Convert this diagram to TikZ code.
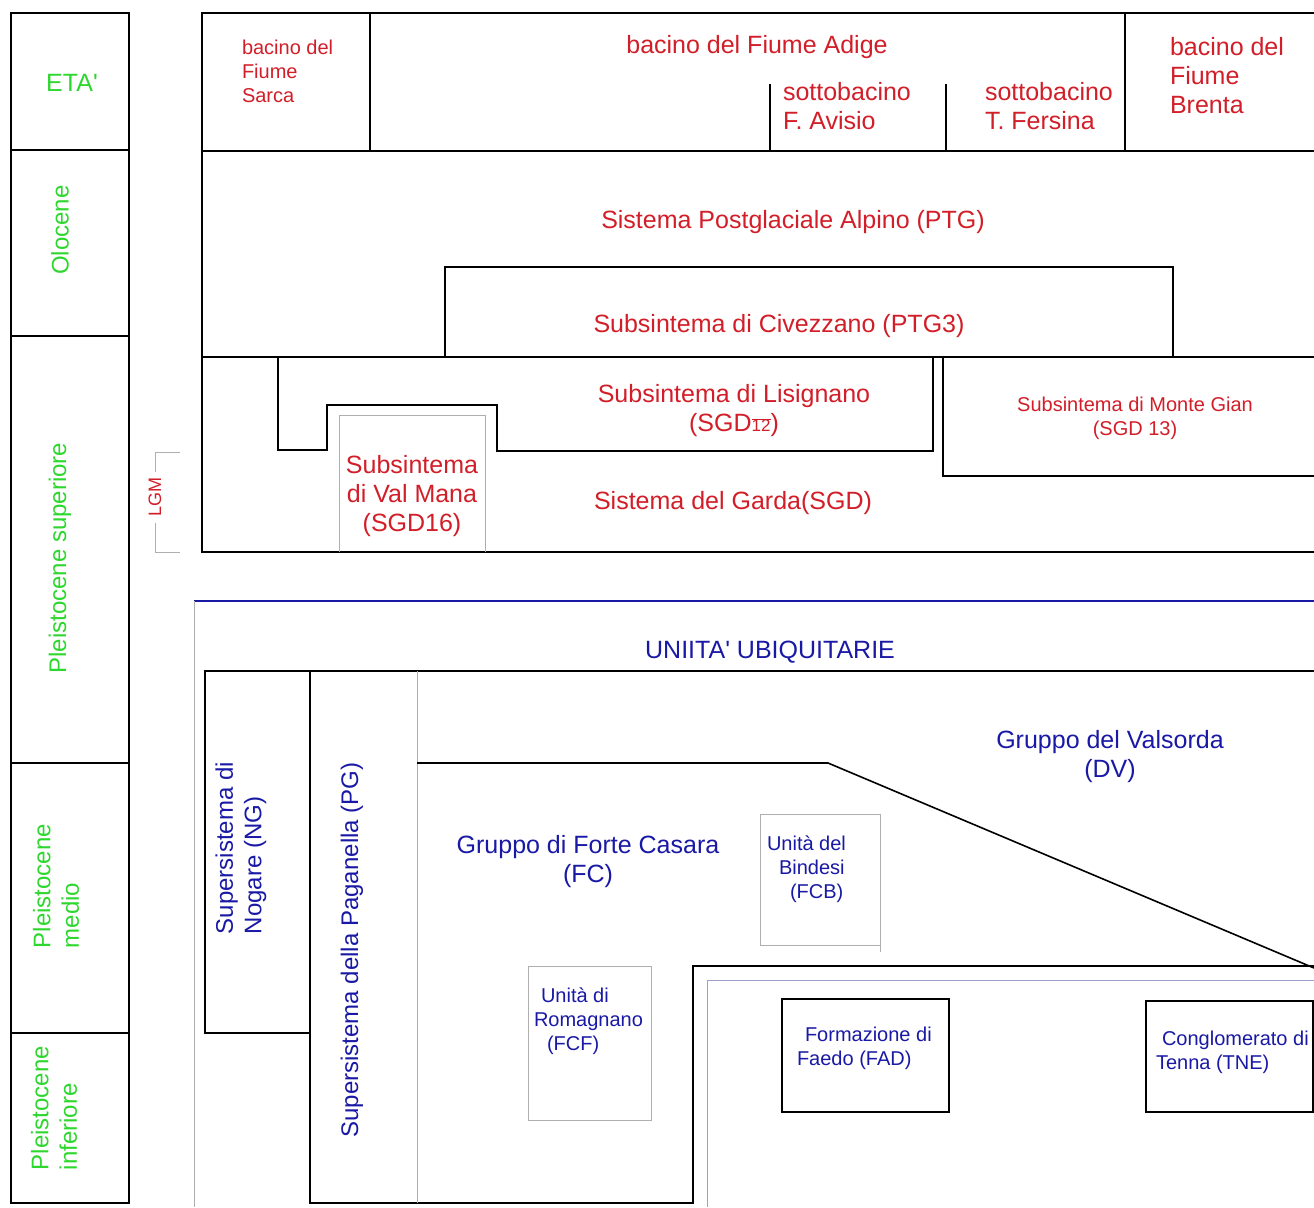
\documentclass[tikz,border=0pt]{standalone}
\usepackage{fontspec}
\setmainfont{Liberation Sans}
\definecolor{tred}{RGB}{210,30,40}
\definecolor{tblue}{RGB}{25,25,165}
\definecolor{tgreen}{RGB}{45,215,45}
\definecolor{lgray}{RGB}{175,175,175}
\definecolor{bgray}{RGB}{160,160,205}
\newcommand\fa{\fontsize{25}{29}\selectfont}
\newcommand\fc{\fontsize{24}{28.5}\selectfont}
\newcommand\fb{\fontsize{20}{24}\selectfont}
\newcommand\fd{\fontsize{18}{21}\selectfont}
\begin{document}
\begin{tikzpicture}[x=1pt,y=-1pt,
  blk/.style={line width=1.6pt,black,line join=miter},
  gry/.style={line width=0.9pt,lgray},
  bln/.style={line width=1.3pt,tblue},
  bgr/.style={line width=0.8pt,bgray},
  txt/.style={inner sep=0pt,outer sep=0pt,align=center},
  rd25/.style={txt,text=tred,font=\fa},
  rd20/.style={txt,text=tred,font=\fb},
  rd18/.style={txt,text=tred,font=\fd},
  bl25/.style={txt,text=tblue,font=\fa},
  bl24/.style={txt,text=tblue,font=\fc},
  bl20/.style={txt,text=tblue,font=\fb},
  gr25/.style={txt,text=tgreen,font=\fa},
  gr24/.style={txt,text=tgreen,font=\fc}]
\useasboundingbox (0,0) rectangle (1314,1207);
\fill[white] (0,0) rectangle (1314,1207);

% left age column
\draw[blk] (11,13) rectangle (129,1203);
\foreach \yy in {150,336,763,1033} \draw[blk] (11,\yy) -- (129,\yy);

% upper block
\draw[blk] (1314,13) -- (202,13) -- (202,552) -- (1314,552);
\draw[blk] (202,151) -- (1314,151);
\draw[blk] (370,13) -- (370,151);
\draw[blk] (1125,13) -- (1125,151);
\draw[blk] (770,84) -- (770,151);
\draw[blk] (946,84) -- (946,151);
\draw[blk] (202,357) -- (1314,357);
\draw[blk] (445,357) -- (445,267) -- (1173,267) -- (1173,357);
\draw[blk] (278,357) -- (278,450) -- (327,450) -- (327,405) -- (497,405) -- (497,451) -- (933,451) -- (933,357);
\draw[blk] (943,357) -- (943,476) -- (1314,476);
\draw[gry] (339,552) -- (339,415) -- (485,415) -- (485,552);
% LGM bracket
\draw[gry] (180,452) -- (155,452) -- (155,472);
\draw[gry] (155,523) -- (155,552) -- (180,552);

% lower block
\draw[bln] (194,601) -- (1314,601);
\draw[gry] (194,601) -- (194,1207);
\draw[blk] (1314,671) -- (205,671) -- (205,1033) -- (310,1033);
\draw[blk] (310,671) -- (310,1203) -- (693,1203) -- (693,966) -- (1314,966);
\draw[gry] (417,671) -- (417,1203);
\draw[blk] (417,763) -- (828,763) -- (1314,968);
\draw[bgr] (1314,980) -- (707,980) -- (707,1207);
\draw[blk] (782,999) rectangle (949,1112);
\draw[blk] (1313,1001) -- (1146,1001) -- (1146,1112) -- (1313,1112) -- cycle;
\draw[gry] (528,966) rectangle (651,1120);
\draw[gry] (760,814) rectangle (880,945);
\draw[gry] (880,945) -- (880,952);

% age texts
\node[gr25] (eta) at (72,83) {ETA\textquotesingle};
\node[gr24,rotate=90] (olo) at (60,230) {Olocene};
\node[gr24,rotate=90] (psup) at (60,558) {Pleistocene superiore};
\node[gr24,rotate=90,align=left] (pmed) at (56,886) {Pleistocene\\medio};
\node[gr24,rotate=90,align=left] (pinf) at (54,1108) {Pleistocene\\inferiore};

% header texts
\node[rd20,anchor=west,align=left] (sarca) at (242,71) {bacino del\\Fiume\\Sarca};
\node[rd25] (adige) at (757,47) {bacino del Fiume Adige};
\node[rd25,anchor=west,align=left] (avisio) at (783,106) {sottobacino\\F. Avisio};
\node[rd25,anchor=west,align=left] (fersina) at (985,106) {sottobacino\\T. Fersina};
\node[rd25,anchor=west,align=left] (brenta) at (1170,76) {bacino del\\Fiume\\Brenta};

% upper units
\node[rd25] (ptg) at (793,222) {Sistema Postglaciale Alpino (PTG)};
\node[rd25] (ptg3) at (779,326) {Subsintema di Civezzano (PTG3)};
\node[rd25] (lis) at (734,411) {Subsintema di Lisignano\\(SGD$\overline{\hbox{\fontsize{17}{17}\selectfont 12}}$)};
\node[rd20] (gian) at (1135,418) {Subsintema di Monte Gian\\(SGD 13)};
\node[rd25] (mana) at (412,496) {Subsintema\\di Val Mana\\(SGD16)};
\node[rd25] (sgd) at (733,503) {Sistema del Garda(SGD)};
\node[rd18,rotate=90] (lgm) at (155,497) {LGM};

% lower units
\node[bl25] (ubiq) at (770,652) {UNIITA\textquotesingle{} UBIQUITARIE};
\node[bl25] (dv) at (1110,757) {Gruppo del Valsorda\\(DV)};
\node[bl25] (fc) at (588,862) {Gruppo di Forte Casara\\(FC)};
\node[bl24,rotate=90,align=left] (ng) at (241,848) {Supersistema di\\Nogare (NG)};
\node[bl24,rotate=90] (pg) at (352,950) {Supersistema della Paganella (PG)};
\node[bl20,anchor=west,align=left] (fcb) at (767,869) {Unità del\\\hspace*{12pt}Bindesi\\\hspace*{23pt}(FCB)};
\node[bl20,anchor=west,align=left] (fcf) at (534,1021) {\hspace*{7pt}Unità di\\Romagnano\\\hspace*{13pt}(FCF)};
\node[bl20,anchor=west,align=left] (fad) at (797,1048) {\hspace*{8pt}Formazione di\\Faedo (FAD)};
\node[bl20,anchor=west,align=left] (tne) at (1156,1052) {\hspace*{6pt}Conglomerato di\\Tenna (TNE)};
\end{tikzpicture}
\end{document}
